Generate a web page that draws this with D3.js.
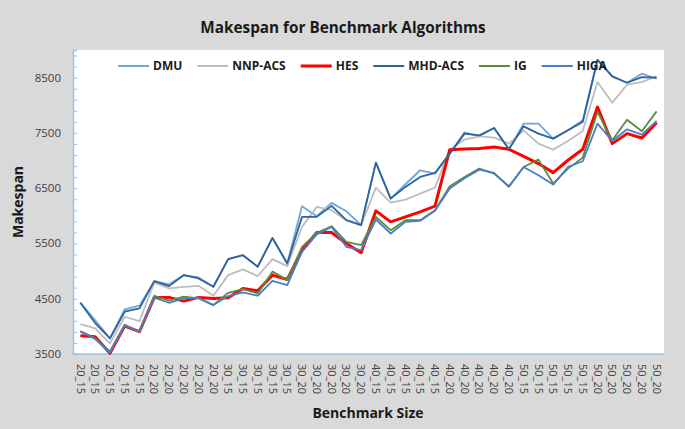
<!DOCTYPE html>
<html>
<head>
<meta charset="utf-8">
<script src="https://cdn.jsdelivr.net/npm/d3@7"></script>
<style>
  body { margin: 0; background: #d9d9d9; }
  svg { display: block; font-family: "Open Sans", sans-serif; }
</style>
</head>
<body>
<svg id="chart" width="685" height="429"></svg>
<script>
const sizes = [
  "20_15", "20_15", "20_15", "20_15", "20_15",
  "20_20", "20_20", "20_20", "20_20", "20_20",
  "30_15", "30_15", "30_15", "30_15", "30_15",
  "30_20", "30_20", "30_20", "30_20", "30_20",
  "40_15", "40_15", "40_15", "40_15", "40_15",
  "40_20", "40_20", "40_20", "40_20", "40_20",
  "50_15", "50_15", "50_15", "50_15", "50_15",
  "50_20", "50_20", "50_20", "50_20", "50_20"
]

const algorithms = ["DMU", "NNP-ACS", "HES", "MHD-ACS", "IG", "HIGA"]

const dmu = [4430, 4110, 3783, 4307, 4373, 4819, 4760, 4927, 4885, 4716,
  5216, 5288, 5078, 5600, 5138, 6174, 5993, 6234, 6083, 5831,
  6963, 6312, 6571, 6824, 6764, 7125, 7510, 7438, 7589, 7204,
  7668, 7668, 7396, 7547, 7727, 8823, 8522, 8408, 8571, 8480]

const nnpAcs = [4042, 3964, 3693, 4174, 4096, 4789, 4686, 4716, 4734, 4554,
  4927, 5030, 4909, 5216, 5090, 5800, 6162, 6102, 5921, 5831,
  6511, 6240, 6294, 6403, 6511, 7197, 7380, 7438, 7414, 7306,
  7547, 7306, 7198, 7354, 7535, 8420, 8047, 8372, 8420, 8528]

const hes = [3831, 3813, 3512, 4006, 3903, 4524, 4524, 4457, 4524, 4506,
  4518, 4686, 4644, 4927, 4849, 5379, 5698, 5698, 5499, 5331,
  6090, 5891, 5981, 6071, 6174, 7197, 7210, 7216, 7246, 7204,
  7077, 6945, 6782, 7005, 7204, 7968, 7306, 7487, 7408, 7685]

const mhdAcs = [4427, 4060, 3783, 4265, 4325, 4819, 4728, 4927, 4867, 4716,
  5216, 5288, 5078, 5600, 5138, 5981, 5981, 6180, 5921, 5831,
  6963, 6312, 6523, 6704, 6776, 7125, 7487, 7456, 7589, 7204,
  7619, 7487, 7396, 7547, 7697, 8823, 8522, 8408, 8510, 8500]

const ig = [3915, 3783, 3542, 4030, 3903, 4554, 4464, 4536, 4506, 4385,
  4608, 4674, 4596, 4990, 4837, 5439, 5692, 5812, 5529, 5469,
  5981, 5740, 5921, 5921, 6102, 6535, 6700, 6854, 6764, 6535,
  6884, 7017, 6583, 6854, 7053, 7878, 7366, 7739, 7529, 7890]

const higa = [3903, 3771, 3524, 4012, 3903, 4518, 4427, 4506, 4518, 4385,
  4548, 4614, 4554, 4825, 4747, 5349, 5662, 5800, 5439, 5379,
  5933, 5680, 5891, 5909, 6090, 6493, 6680, 6836, 6776, 6523,
  6884, 6734, 6565, 6884, 6987, 7667, 7354, 7565, 7469, 7715]

const yLabels = [3500, 4500, 5500, 6500, 7500, 8500]

const series = [
  { name: algorithms[0], values: dmu, color: "#6fa8dc", width: 1.8 },
  { name: algorithms[1], values: nnpAcs, color: "#bdbdbd", width: 1.8 },
  { name: algorithms[2], values: hes, color: "#ff0000", width: 3 },
  { name: algorithms[3], values: mhdAcs, color: "#2f6399", width: 1.8 },
  { name: algorithms[4], values: ig, color: "#5b8c3a", width: 1.8 },
  { name: algorithms[5], values: higa, color: "#4a7ccc", width: 1.8 }
]

const svg = d3.select("#chart")
const plot = { left: 73, right: 664, top: 50, bottom: 354 }
const axisColor = "#9dc3e6"

const x = d3.scalePoint()
  .domain(d3.range(sizes.length))
  .range([plot.left, plot.right])
  .padding(0.5)

const y = d3.scaleLinear()
  .domain([3500, 9000])
  .range([plot.bottom, plot.top])

svg.append("rect")
  .attr("x", plot.left)
  .attr("y", plot.top)
  .attr("width", plot.right - plot.left)
  .attr("height", plot.bottom - plot.top)
  .attr("fill", "white")

// y axis: small inward ticks every 200, labels every 1000
const yAxis = svg.append("g")
  .attr("transform", `translate(${plot.left},0)`)
  .call(d3.axisRight(y).tickValues(d3.range(3500, 9001, 200)).tickSize(4).tickFormat(""))
yAxis.select(".domain").attr("stroke", axisColor).attr("stroke-width", 1.5)
yAxis.selectAll(".tick line").attr("stroke", axisColor)

svg.append("g")
  .selectAll("text")
  .data(yLabels)
  .join("text")
  .attr("x", 61)
  .attr("y", d => y(d))
  .attr("dy", "0.35em")
  .attr("text-anchor", "end")
  .attr("font-size", 11.5)
  .attr("fill", "#404040")
  .text(d => d)

svg.append("line")
  .attr("x1", plot.left).attr("x2", plot.right)
  .attr("y1", plot.bottom).attr("y2", plot.bottom)
  .attr("stroke", axisColor)
  .attr("stroke-width", 1.5)

// x labels rotated, reading top to bottom
svg.append("g")
  .selectAll("text")
  .data(sizes)
  .join("text")
  .attr("transform", (d, i) => `translate(${x(i)},${plot.bottom + 10}) rotate(90)`)
  .attr("dy", "0.35em")
  .attr("font-size", 11)
  .attr("fill", "#404040")
  .text(d => d)

const line = d3.line()
  .x((d, i) => x(i))
  .y(d => y(d))

svg.append("g")
  .selectAll("path")
  .data(series)
  .join("path")
  .attr("d", d => line(d.values))
  .attr("fill", "none")
  .attr("stroke", d => d.color)
  .attr("stroke-width", d => d.width)
  .attr("stroke-linejoin", "round")

// legend
const legend = svg.append("g").attr("transform", "translate(118,66)")
let lx = 0
series.forEach(s => {
  const item = legend.append("g").attr("transform", `translate(${lx},0)`)
  item.append("line")
    .attr("x1", 0).attr("x2", 31)
    .attr("y1", 0).attr("y2", 0)
    .attr("stroke", s.color)
    .attr("stroke-width", s.name === "HES" ? 3 : 2)
  const t = item.append("text")
    .attr("x", 35)
    .attr("dy", "0.35em")
    .attr("font-size", 12)
    .attr("font-weight", "bold")
    .attr("fill", "#1a1a1a")
    .text(s.name)
  lx += 35 + t.node().getComputedTextLength() + 15
})

svg.append("text")
  .attr("x", 343)
  .attr("y", 28)
  .attr("dy", "0.35em")
  .attr("text-anchor", "middle")
  .attr("font-size", 15.3)
  .attr("font-weight", "bold")
  .attr("fill", "#1a1a1a")
  .text("Makespan for Benchmark Algorithms")

svg.append("text")
  .attr("transform", `translate(18,${(plot.top + plot.bottom) / 2}) rotate(-90)`)
  .attr("dy", "0.35em")
  .attr("text-anchor", "middle")
  .attr("font-size", 14)
  .attr("font-weight", "bold")
  .attr("fill", "#1a1a1a")
  .text("Makespan")

svg.append("text")
  .attr("x", 368)
  .attr("y", 413)
  .attr("dy", "0.35em")
  .attr("text-anchor", "middle")
  .attr("font-size", 14)
  .attr("font-weight", "bold")
  .attr("fill", "#1a1a1a")
  .text("Benchmark Size")
</script>
</body>
</html>
